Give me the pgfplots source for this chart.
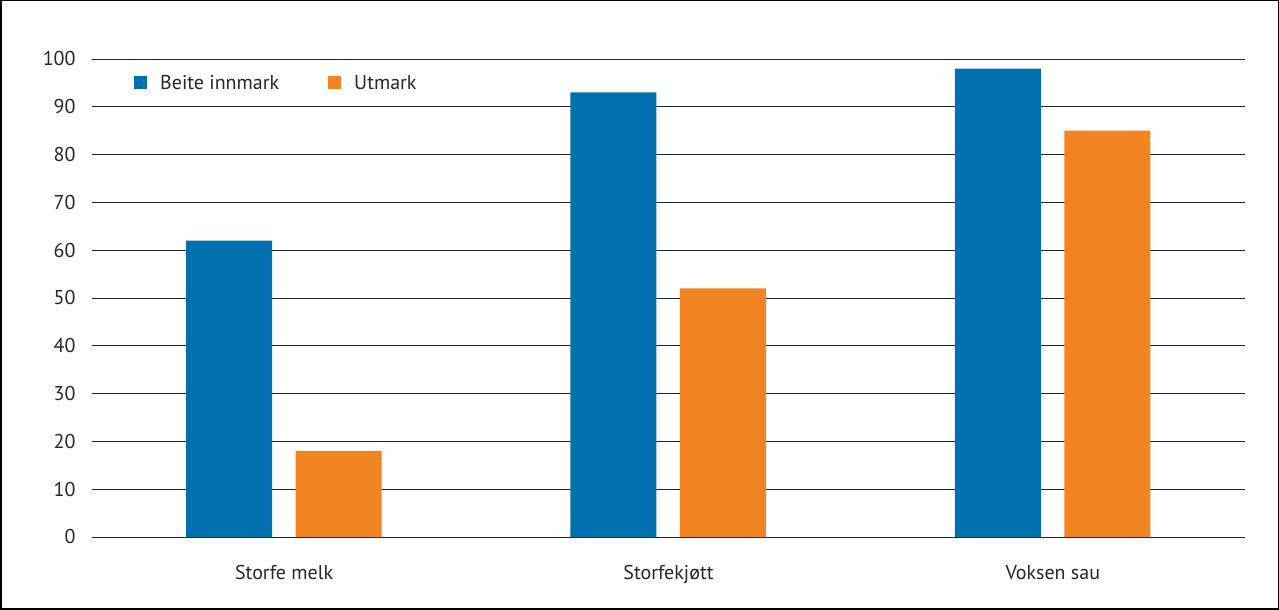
\documentclass[border=0pt]{standalone}
\usepackage{fontspec}
\setmainfont{PT Sans}
\usepackage{pgfplots}
\pgfplotsset{compat=1.18}
\definecolor{cblue}{RGB}{0,112,174}
\definecolor{corange}{RGB}{242,132,33}
\begin{document}
\begin{tikzpicture}[x=1pt,y=1pt]
\useasboundingbox (0,0) rectangle (1279,610);
\draw[line width=1.5pt] (0.75,0.75) rectangle (1278.25,609.25);
\begin{axis}[
  at={(92pt,73pt)}, anchor=south west,
  width=1153pt, height=478pt, scale only axis,
  xmin=-0.5, xmax=2.5, ymin=0, ymax=100,
  ytick={0,10,...,100},
  xtick={0,1,2},
  xticklabels={Storfe melk, Storfekjøtt, Voksen sau},
  ymajorgrids, grid style={black!85, line width=0.8pt},
  axis line style={draw=none},
  major tick length=0pt,
  /pgf/number format/assume math mode=true,
  tick label style={font=\fontsize{20}{23}\selectfont, text=black!85},
  yticklabel style={xshift=-13pt},
  xticklabel style={yshift=-25pt},
  ybar, bar width=86pt,
  legend style={draw=none, fill=none, at={(0.0364,0.95)}, anchor=west,
    font=\fontsize{20}{23}\selectfont, text=black!85, inner sep=0pt,
    /tikz/every odd column/.append style={column sep=11pt},
    /tikz/every even column/.append style={column sep=47pt}},
  legend columns=2,
  legend image code/.code={\fill[#1] (0pt,-6.5pt) rectangle (13pt,6.5pt);},
]
\addplot[fill=cblue, draw=none, bar shift=-55pt] coordinates {(0,62) (1,93) (2,98)};
\addplot[fill=corange, draw=none, bar shift=54.5pt] coordinates {(0,18) (1,52) (2,85)};
\legend{Beite innmark, Utmark}
\end{axis}
\end{tikzpicture}
\end{document}
